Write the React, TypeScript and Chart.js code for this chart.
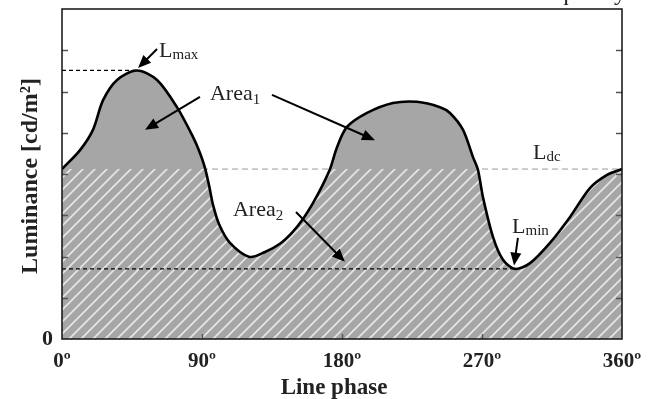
import React, { useEffect, useRef } from 'react';
import { Chart, registerables } from 'chart.js';

Chart.register(...registerables);

// ---- data ----
const phaseDeg = [0, 11.6, 19.9, 26.4, 35.4, 48.2, 61.1, 73.9, 84.2, 88.7, 91.9, 94.5, 97.1, 100.9, 108.0, 120.5, 130.5, 140.1, 147.9, 154.9, 161.4, 167.1, 172.3, 176.8, 183.2, 196.1, 212.8, 228.2, 243.0, 249.4, 257.8, 264.2, 267.4, 270.6, 277.1, 283.5, 291.2, 300.9, 313.7, 326.6, 339.4, 350.4, 360];
const luminance = [4.12, 4.58, 5.07, 5.79, 6.28, 6.51, 6.28, 5.62, 4.90, 4.51, 4.15, 3.73, 3.25, 2.79, 2.33, 1.99, 2.11, 2.31, 2.58, 2.91, 3.30, 3.70, 4.12, 4.65, 5.14, 5.48, 5.72, 5.75, 5.62, 5.48, 5.07, 4.41, 4.10, 3.44, 2.47, 1.92, 1.70, 1.84, 2.33, 2.96, 3.66, 3.98, 4.12];
const L_DC = 4.12;
const L_MAX = 6.51;
const L_MAX_PHASE = 48.2;
const L_MIN = 1.70;
const L_MIN_PHASE = 291.2;
const xTickValues = [0, 90, 180, 270, 360];
const xTickLabels = ['0º', '90º', '180º', '270º', '360º'];
const yTickValues = [1, 2, 3, 4, 5, 6, 7];
const yLabelText = ['0'];
const xTitle = 'Line phase';
const yTitle = 'Luminance [cd/m²]';
const topFragment = 'frequency';

// annotation anchors in data units
const labels = [
  { main: 'L', sub: 'max', x: 62.4, y: 6.84 },
  { main: 'Area', sub: '1', x: 95.1, y: 5.79 },
  { main: 'Area', sub: '2', x: 109.9, y: 2.98 },
  { main: 'L', sub: 'dc', x: 302.8, y: 4.36 },
  { main: 'L', sub: 'min', x: 289.3, y: 2.57 },
];
const arrows = [
  [61.1, 7.03, 48.9, 6.57],
  [88.7, 5.87, 53.4, 5.07],
  [135.0, 5.92, 201.2, 4.82],
  [150.4, 3.08, 181.9, 1.87],
  [293.1, 2.45, 290.6, 1.78],
];

const SERIF = '"Liberation Serif", "Times New Roman", serif';

function makeHatch(): CanvasPattern | string {
  const c = document.createElement('canvas');
  c.width = 12; c.height = 12;
  const g = c.getContext('2d');
  if (!g) return '#a6a6a6';
  g.fillStyle = '#a6a6a6';
  g.fillRect(0, 0, 12, 12);
  g.strokeStyle = 'rgba(240,240,240,0.85)';
  g.lineWidth = 1.7;
  for (const k of [-1, 0, 1]) {
    g.beginPath();
    g.moveTo(-2, 12 + k * 12 + 2);
    g.lineTo(14, k * 12 - 2);
    g.stroke();
  }
  const p = g.createPattern(c, 'repeat');
  return p || '#a6a6a6';
}

const overlayPlugin = {
  id: 'overlay',
  afterDatasetsDraw(chart: any) {
    const { ctx, chartArea: a, scales } = chart;
    const sx = scales.x, sy = scales.y;
    ctx.save();
    // inner tick marks
    ctx.strokeStyle = '#555';
    ctx.lineWidth = 1.5;
    for (const v of yTickValues) {
      const py = Math.round(sy.getPixelForValue(v)) + 0.5;
      ctx.beginPath(); ctx.moveTo(a.left, py); ctx.lineTo(a.left + 6, py); ctx.stroke();
      ctx.beginPath(); ctx.moveTo(a.right - 6, py); ctx.lineTo(a.right, py); ctx.stroke();
    }
    for (const v of xTickValues.slice(1, -1)) {
      const px = Math.round(sx.getPixelForValue(v)) + 0.5;
      ctx.beginPath(); ctx.moveTo(px, a.bottom); ctx.lineTo(px, a.bottom - 5); ctx.stroke();
    }
    // frame
    ctx.strokeStyle = '#111';
    ctx.lineWidth = 1.5;
    ctx.strokeRect(a.left, a.top, a.right - a.left, a.bottom - a.top);

    // arrows
    ctx.strokeStyle = '#000';
    ctx.fillStyle = '#000';
    for (const [x1, y1, x2, y2] of arrows) {
      const p1x = sx.getPixelForValue(x1), p1y = sy.getPixelForValue(y1);
      const p2x = sx.getPixelForValue(x2), p2y = sy.getPixelForValue(y2);
      const ang = Math.atan2(p2y - p1y, p2x - p1x);
      const hl = 13, hw = 5.5;
      const bx = p2x - hl * Math.cos(ang), by = p2y - hl * Math.sin(ang);
      ctx.lineWidth = 2;
      ctx.beginPath(); ctx.moveTo(p1x, p1y); ctx.lineTo(bx + 2 * Math.cos(ang), by + 2 * Math.sin(ang)); ctx.stroke();
      ctx.beginPath();
      ctx.moveTo(p2x, p2y);
      ctx.lineTo(bx + hw * Math.sin(ang), by - hw * Math.cos(ang));
      ctx.lineTo(bx - hw * Math.sin(ang), by + hw * Math.cos(ang));
      ctx.closePath(); ctx.fill();
    }
    // labels
    ctx.fillStyle = '#222';
    ctx.textBaseline = 'alphabetic';
    ctx.textAlign = 'left';
    for (const l of labels) {
      const px = sx.getPixelForValue(l.x), py = sy.getPixelForValue(l.y);
      ctx.font = `22px ${SERIF}`;
      ctx.fillText(l.main, px, py);
      const w = ctx.measureText(l.main).width;
      ctx.font = `15px ${SERIF}`;
      ctx.fillText(l.sub, px + w, py + (l.main === 'Area' ? 4 : 2));
    }
    ctx.restore();
  },
  afterDraw(chart: any) {
    const { ctx, chartArea: a } = chart;
    ctx.save();
    ctx.fillStyle = '#222';
    // axis titles
    ctx.font = `bold 23px ${SERIF}`;
    ctx.textAlign = 'center';
    ctx.textBaseline = 'alphabetic';
    ctx.fillText(xTitle, (a.left + a.right) / 2 - 8, 394);
    ctx.translate(37, (a.top + a.bottom) / 2 + 2);
    ctx.rotate(-Math.PI / 2);
    ctx.font = `bold 24px ${SERIF}`;
    ctx.fillText(yTitle, 0, 0);
    ctx.setTransform(1, 0, 0, 1, 0, 0);
    // cut-off text fragment at the top edge
    ctx.font = `24px ${SERIF}`;
    ctx.textAlign = 'right';
    ctx.fillText(topFragment, 626, 0);
    ctx.restore();
  },
};

export default function App() {
  const ref = useRef<HTMLCanvasElement | null>(null);
  useEffect(() => {
    if (!ref.current) return;
    const hatch = makeHatch();
    const curve = phaseDeg.map((x, i) => ({ x, y: luminance[i] }));
    const chart = new Chart(ref.current, {
      type: 'line',
      data: {
        datasets: [
          {
            label: 'Lmax',
            data: [{ x: 0, y: L_MAX }, { x: L_MAX_PHASE, y: L_MAX }],
            borderColor: '#000', borderWidth: 1.3, borderDash: [4, 3],
            pointRadius: 0, fill: false, order: 1,
          },
          {
            label: 'Luminance',
            data: curve,
            borderColor: '#000', borderWidth: 2.6,
            tension: 0.3,
            pointRadius: 0,
            fill: { target: { value: L_DC }, above: '#a6a6a6', below: 'rgba(0,0,0,0)' },
            order: 2,
          },
          {
            label: 'Lmin',
            data: [{ x: 0, y: L_MIN }, { x: L_MIN_PHASE, y: L_MIN }],
            borderColor: '#000', borderWidth: 1.3, borderDash: [4, 3],
            pointRadius: 0, fill: false, order: 3,
          },
          {
            label: 'Hatch',
            data: curve,
            borderWidth: 0, borderColor: 'rgba(0,0,0,0)',
            backgroundColor: hatch as any,
            tension: 0.3,
            pointRadius: 0, fill: 'origin', order: 4,
          },
          {
            label: 'Ldc',
            data: [{ x: 0, y: L_DC }, { x: 360, y: L_DC }],
            borderColor: '#9a9a9a', borderWidth: 1, borderDash: [6, 4],
            pointRadius: 0, fill: false, order: 5,
          },
        ] as any,
      },
      options: {
        responsive: false,
        animation: false,
        events: [],
        layout: { padding: { left: 0, top: 9, right: 31, bottom: 0 } },
        plugins: { legend: { display: false }, tooltip: { enabled: false } },
        scales: {
          x: {
            type: 'linear', min: 0, max: 360,
            afterBuildTicks: (s: any) => { s.ticks = xTickValues.map((v) => ({ value: v })); },
            ticks: {
              callback: (v: any) => xTickLabels[xTickValues.indexOf(Number(v))] ?? '',
              color: '#222', font: { family: SERIF, size: 21, weight: 'bold' },
              padding: 10, maxRotation: 0, autoSkip: false,
            },
            grid: { display: false, drawTicks: false },
            border: { display: false },
            title: { display: false },
            afterFit: (s: any) => { s.height = 60; s.paddingLeft = 0; s.paddingRight = 0; },
          },
          y: {
            type: 'linear', min: 0, max: 8,
            afterBuildTicks: (s: any) => { s.ticks = [{ value: 0 }]; },
            ticks: {
              callback: () => yLabelText[0],
              color: '#222', font: { family: SERIF, size: 22, weight: 'bold' },
              padding: 9,
            },
            grid: { display: false, drawTicks: false },
            border: { display: false },
            title: { display: false },
            afterFit: (s: any) => { s.width = 62; s.paddingTop = 0; s.paddingBottom = 0; },
          },
        },
      } as any,
      plugins: [overlayPlugin],
    });
    return () => chart.destroy();
  }, []);
  return (
    <div style={{ position: 'fixed', left: 0, top: 0, width: 653, height: 399, background: '#fff' }}>
      <canvas ref={ref} width={653} height={399} style={{ display: 'block' }} />
    </div>
  );
}
